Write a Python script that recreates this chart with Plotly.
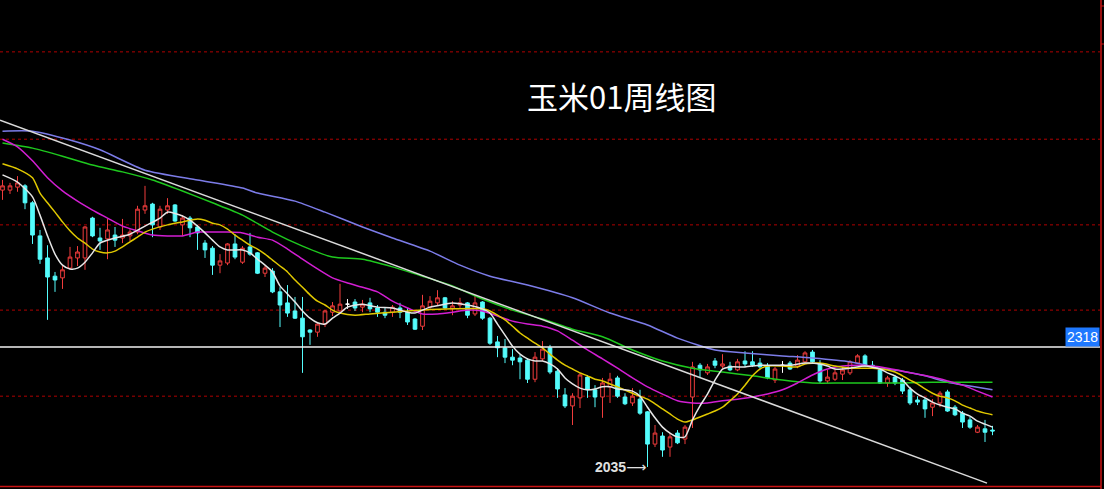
import plotly.graph_objects as go

# ---------------- data (weekly candles, corn 01 contract) ----------------
WEEK = list(range(133))
OPEN = [2688, 2688, 2695, 2698, 2658, 2580, 2528, 2485, 2481, 2504,
        2528, 2528, 2622, 2575, 2573, 2582, 2575, 2580, 2589, 2641,
        2655, 2601, 2641, 2653, 2606, 2622, 2601, 2563, 2551, 2511,
        2516, 2561, 2518, 2554, 2540, 2492, 2497, 2448, 2422, 2403,
        2386, 2358, 2353, 2372, 2400, 2403, 2419, 2424, 2412, 2422,
        2410, 2400, 2400, 2410, 2400, 2384, 2367, 2412, 2422, 2434,
        2408, 2417, 2422, 2396, 2424, 2386, 2330, 2316, 2294, 2292,
        2287, 2242, 2290, 2316, 2261, 2205, 2179, 2198, 2247, 2217,
        2200, 2224, 2245, 2200, 2186, 2195, 2165, 2089, 2108, 2082,
        2115, 2101, 2200, 2275, 2257, 2285, 2273, 2273, 2264, 2285,
        2283, 2280, 2273, 2240, 2275, 2280, 2273, 2283, 2306, 2278,
        2238, 2242, 2254, 2257, 2280, 2297, 2275, 2264, 2233, 2247,
        2240, 2217, 2193, 2193, 2176, 2186, 2212, 2176, 2162, 2146,
        2117, 2125, 2122]
HIGH = [2712, 2705, 2721, 2702, 2662, 2594, 2558, 2495, 2509, 2554,
        2556, 2603, 2625, 2599, 2620, 2601, 2620, 2596, 2651, 2698,
        2658, 2651, 2669, 2655, 2629, 2627, 2606, 2570, 2556, 2537,
        2563, 2584, 2556, 2587, 2542, 2509, 2504, 2459, 2464, 2436,
        2436, 2360, 2377, 2405, 2424, 2467, 2431, 2431, 2429, 2434,
        2417, 2412, 2417, 2422, 2410, 2386, 2441, 2438, 2452, 2436,
        2426, 2434, 2424, 2441, 2426, 2389, 2344, 2337, 2313, 2299,
        2292, 2306, 2332, 2323, 2268, 2221, 2209, 2257, 2252, 2228,
        2245, 2257, 2250, 2209, 2221, 2217, 2167, 2134, 2117, 2115,
        2122, 2134, 2283, 2280, 2278, 2292, 2301, 2283, 2290, 2308,
        2308, 2292, 2280, 2271, 2285, 2285, 2299, 2308, 2311, 2287,
        2264, 2266, 2271, 2287, 2301, 2301, 2285, 2268, 2250, 2252,
        2245, 2224, 2202, 2198, 2195, 2214, 2217, 2181, 2167, 2153,
        2134, 2146, 2132]
LOW = [2665, 2679, 2684, 2643, 2561, 2514, 2382, 2448, 2455, 2500,
       2509, 2500, 2577, 2547, 2525, 2554, 2563, 2568, 2584, 2632,
       2577, 2594, 2632, 2613, 2580, 2577, 2547, 2528, 2488, 2492,
       2511, 2525, 2514, 2533, 2490, 2483, 2445, 2365, 2389, 2384,
       2257, 2323, 2342, 2365, 2391, 2400, 2408, 2403, 2400, 2400,
       2389, 2386, 2389, 2386, 2370, 2358, 2358, 2408, 2415, 2408,
       2393, 2410, 2386, 2391, 2382, 2323, 2294, 2280, 2275, 2242,
       2233, 2235, 2285, 2254, 2198, 2174, 2134, 2174, 2198, 2176,
       2151, 2186, 2198, 2181, 2179, 2158, 2035, 2082, 2059, 2059,
       2089, 2089, 2127, 2247, 2252, 2268, 2268, 2261, 2261, 2271,
       2271, 2266, 2242, 2233, 2257, 2264, 2268, 2280, 2278, 2233,
       2233, 2238, 2240, 2252, 2278, 2271, 2266, 2231, 2224, 2228,
       2207, 2181, 2181, 2151, 2155, 2176, 2165, 2155, 2127, 2125,
       2115, 2094, 2110]
CLOSE = [2698, 2698, 2705, 2658, 2582, 2525, 2483, 2476, 2500, 2530,
         2542, 2601, 2580, 2568, 2594, 2570, 2582, 2589, 2643, 2651,
         2606, 2643, 2651, 2615, 2622, 2599, 2587, 2547, 2511, 2521,
         2561, 2530, 2551, 2537, 2492, 2504, 2448, 2417, 2398, 2386,
         2342, 2353, 2372, 2403, 2415, 2419, 2419, 2410, 2419, 2408,
         2400, 2393, 2412, 2400, 2377, 2360, 2415, 2426, 2434, 2410,
         2415, 2422, 2393, 2422, 2386, 2327, 2316, 2294, 2287, 2283,
         2242, 2294, 2313, 2259, 2219, 2179, 2202, 2252, 2217, 2200,
         2233, 2242, 2202, 2184, 2202, 2162, 2089, 2115, 2075, 2106,
         2092, 2129, 2271, 2264, 2271, 2275, 2278, 2264, 2283, 2278,
         2275, 2271, 2245, 2266, 2275, 2266, 2287, 2304, 2283, 2238,
         2247, 2257, 2264, 2283, 2297, 2273, 2271, 2233, 2245, 2233,
         2214, 2186, 2188, 2172, 2186, 2209, 2167, 2158, 2141, 2129,
         2129, 2117, 2120]

# moving averages (week index, price)
MA5_X = [0, 2, 4, 5, 6, 7, 8, 9, 10, 11, 12, 13, 15, 17, 19, 21, 22, 24, 25, 26,
         27, 28, 29, 30, 32, 33, 34, 35, 36, 37, 38, 39, 40, 41, 42, 43, 44, 45, 46,
         48, 50, 52, 54, 55, 56, 57, 59, 60, 62, 64, 65, 66, 67, 68, 69, 70,
         71, 72, 73, 74, 75, 76, 77, 78, 79, 80, 81, 82, 83, 84, 85, 86, 87, 88, 89,
         90, 91, 92, 93, 94, 95, 96, 97, 99, 101, 103, 105, 107, 109, 110, 111, 113,
         115, 117, 118, 119, 120, 121, 122, 123, 124, 125, 126, 127, 128, 129, 130,
         131, 132]
MA5_Y = [2724, 2707, 2672, 2629, 2580, 2537, 2511, 2502, 2504, 2518, 2540, 2563,
         2575, 2584, 2603, 2622, 2636, 2627, 2617, 2603, 2587, 2570, 2554, 2547,
         2547, 2540, 2525, 2511, 2495, 2462, 2443, 2424, 2403, 2386, 2375, 2372,
         2386, 2398, 2412, 2419, 2412, 2410, 2400, 2398, 2405, 2412, 2419, 2422,
         2417, 2408, 2398, 2372, 2346, 2320, 2301, 2290, 2285, 2285, 2278, 2266,
         2245, 2231, 2221, 2217, 2219, 2224, 2224, 2219, 2217, 2214, 2202, 2176,
         2151, 2129, 2115, 2106, 2106, 2146, 2179, 2207, 2240, 2266, 2271, 2271,
         2275, 2275, 2275, 2280, 2278, 2273, 2266, 2268, 2273, 2266, 2257, 2250,
         2240, 2221, 2207, 2198, 2188, 2181, 2176, 2172, 2162, 2155, 2143, 2136,
         2129]
MA10_X = [0, 2, 4, 5, 6, 7, 8, 9, 10, 11, 12, 13, 14, 15, 16, 17, 18, 19, 20,
          22, 24, 26, 27, 28, 29, 30, 31, 32, 33, 34, 35, 36, 37, 38, 39, 40, 41,
          42, 43, 44, 45, 47, 49, 52, 56, 60, 64, 65, 66, 67, 68, 69, 70, 71, 72,
          73, 74, 75, 76, 77, 78, 79, 80, 82, 84, 85, 86, 87, 88, 89, 90, 91, 92,
          93, 94, 95, 96, 97, 98, 99, 100, 101, 102, 104, 106, 107, 109, 111, 113,
          116, 118, 119, 120, 121, 122, 123, 124, 125, 126, 127, 128, 129, 130,
          131, 132]
MA10_Y = [2750, 2738, 2717, 2681, 2658, 2636, 2613, 2592, 2575, 2563, 2549, 2542,
          2540, 2544, 2554, 2566, 2577, 2589, 2596, 2606, 2613, 2620, 2617, 2610,
          2606, 2596, 2582, 2570, 2558, 2549, 2537, 2523, 2509, 2495, 2476, 2459,
          2441, 2426, 2417, 2405, 2398, 2393, 2396, 2400, 2405, 2408, 2408, 2403,
          2393, 2382, 2367, 2351, 2339, 2327, 2316, 2301, 2287, 2275, 2266, 2257,
          2250, 2242, 2238, 2224, 2209, 2202, 2195, 2184, 2172, 2160, 2148, 2141,
          2146, 2153, 2160, 2167, 2176, 2191, 2207, 2228, 2250, 2266, 2273, 2273,
          2271, 2278, 2280, 2273, 2268, 2268, 2264, 2259, 2250, 2240, 2231, 2219,
          2209, 2202, 2198, 2191, 2181, 2174, 2167, 2162, 2158]
MA20_X = list(range(0, 133, 2))
MA20_Y = [2808, 2790, 2757, 2717, 2686, 2662, 2641, 2622, 2603, 2592,
          2582, 2580, 2580, 2589, 2589, 2589, 2587, 2577, 2570, 2549,
          2525, 2502, 2481, 2469, 2459, 2448, 2426, 2410, 2396, 2396,
          2400, 2405, 2403, 2391, 2379, 2372, 2367, 2356, 2334, 2311,
          2290, 2268, 2245, 2224, 2207, 2191, 2186, 2186, 2191, 2195,
          2200, 2207, 2217, 2233, 2252, 2266, 2273, 2275, 2273, 2268,
          2261, 2254, 2247, 2238, 2228, 2214, 2200]
MA40_X = list(range(0, 133, 4))
MA40_Y = [2799, 2787, 2768, 2747, 2731, 2712, 2686, 2658, 2629, 2589,
          2556, 2530, 2525, 2507, 2485, 2462, 2431, 2405, 2384, 2360,
          2342, 2311, 2285, 2268, 2259, 2250, 2240, 2233, 2233, 2233,
          2233, 2235, 2235, 2235]
MA60_X = [0, 4, 9, 13, 19, 26, 32, 34, 39, 43, 48, 52, 57, 61, 65, 70, 76, 81,
          86, 90, 95, 99, 104, 108, 113, 117, 120, 123, 126, 129, 132]
MA60_Y = [2827, 2827, 2806, 2783, 2735, 2712, 2693, 2681, 2662, 2636, 2601,
          2575, 2544, 2511, 2485, 2464, 2434, 2398, 2370, 2339, 2311, 2304,
          2297, 2292, 2283, 2268, 2261, 2250, 2235, 2226, 2217]

TREND_X = [-0.33, 131.27]
TREND_Y = [2853, 1997]

MARK_LEVEL = 2318
LOW_WEEK = 86
LOW_VALUE = 2035
GRID_LEVELS = [2202, 2405, 2606, 2808, 3014]
TITLE = "玉米01周线图"

X_RANGE = [-0.333, 146.867]
Y_RANGE = [1983.1, 3136.3]

# ---------------- styles ----------------
UP = "#F03C3C"
DOWN = "#54FCFC"
W, H = 1104, 489
BORDER = "#C81414"
GRID = "#B00000"

fig = go.Figure()

normal = [i for i in WEEK if OPEN[i] != CLOSE[i]]
doji = [i for i in WEEK if OPEN[i] == CLOSE[i]]


def pick(arr, idx):
    return [arr[i] for i in idx]


fig.add_trace(go.Candlestick(
    x=normal, open=pick(OPEN, normal), high=pick(HIGH, normal),
    low=pick(LOW, normal), close=pick(CLOSE, normal),
    increasing=dict(line=dict(color=UP, width=1), fillcolor="#000000"),
    decreasing=dict(line=dict(color=DOWN, width=1), fillcolor=DOWN),
    whiskerwidth=0, showlegend=False, hoverinfo="skip"))
fig.add_trace(go.Candlestick(
    x=doji, open=pick(OPEN, doji), high=pick(HIGH, doji),
    low=pick(LOW, doji), close=pick(CLOSE, doji),
    increasing=dict(line=dict(color="#FFFFFF", width=1), fillcolor="#FFFFFF"),
    decreasing=dict(line=dict(color="#FFFFFF", width=1), fillcolor="#FFFFFF"),
    whiskerwidth=0, showlegend=False, hoverinfo="skip"))

for xs, ys, col in [(MA60_X, MA60_Y, "#7C7CE8"),
                    (MA40_X, MA40_Y, "#1EC81E"),
                    (MA20_X, MA20_Y, "#D21ED2"),
                    (MA10_X, MA10_Y, "#E0C800"),
                    (MA5_X, MA5_Y, "#E6E6E6")]:
    fig.add_trace(go.Scatter(x=xs, y=ys, mode="lines",
                             line=dict(color=col, width=1.5, shape="spline", smoothing=0.6),
                             showlegend=False, hoverinfo="skip"))

fig.add_trace(go.Scatter(x=TREND_X, y=TREND_Y, mode="lines",
                         line=dict(color="#DADADA", width=1.5),
                         showlegend=False, hoverinfo="skip"))

shapes = [dict(type="line", xref="paper", yref="y", x0=0, x1=1100 / W,
               y0=g, y1=g, layer="below",
               line=dict(color=GRID, width=1, dash="dot"))
          for g in GRID_LEVELS]
shapes += [
    dict(type="line", xref="paper", yref="y", x0=0, x1=1100 / W,
         y0=MARK_LEVEL, y1=MARK_LEVEL, line=dict(color="#F2F2F2", width=1.5)),
    dict(type="line", xref="paper", yref="paper", x0=1101 / W, x1=1101 / W,
         y0=0, y1=1, line=dict(color=BORDER, width=1.5)),
    dict(type="line", xref="paper", yref="paper", x0=0, x1=1101 / W,
         y0=1 - 486.5 / H, y1=1 - 486.5 / H, line=dict(color=BORDER, width=1.5)),
    dict(type="line", xref="paper", yref="paper", x0=1101 / W, x1=1,
         y0=1 - 6 / H, y1=1 - 6 / H, line=dict(color=BORDER, width=1)),
    dict(type="line", xref="paper", yref="paper", x0=1101 / W, x1=1,
         y0=1 - 44 / H, y1=1 - 44 / H, line=dict(color=BORDER, width=1)),
]

fig.update_layout(
    width=W, height=H,
    margin=dict(l=0, r=0, t=0, b=0),
    paper_bgcolor="#000000", plot_bgcolor="#000000",
    showlegend=False,
    xaxis=dict(range=X_RANGE, showgrid=False, zeroline=False, showticklabels=False,
               ticks="", showline=False, rangeslider=dict(visible=False), fixedrange=True),
    yaxis=dict(range=Y_RANGE, showgrid=False, showticklabels=False, ticks="",
               zeroline=False, showline=False, fixedrange=True),
    shapes=shapes,
    annotations=[
        dict(text=TITLE, xref="paper", yref="paper", x=621 / W, y=1 - 96 / H,
             xanchor="center", yanchor="middle", showarrow=False,
             font=dict(family="Noto Sans CJK SC", size=31, color="#FFFFFF")),
        dict(text=str(MARK_LEVEL), xref="paper", yref="y", x=1100 / W, y=MARK_LEVEL,
             xanchor="right", yanchor="bottom", showarrow=False,
             bgcolor="#1E78FF", borderpad=1,
             font=dict(family="Liberation Sans", size=14, color="#FFFFFF")),
        dict(text="<b>" + str(LOW_VALUE) + "</b>⟶", xref="x", yref="y",
             x=LOW_WEEK, y=LOW_VALUE, xanchor="right", yanchor="middle",
             showarrow=False,
             font=dict(family="Liberation Sans, DejaVu Sans", size=14, color="#E0E0E0")),
    ],
)

fig.write_html(
    "out.html",
    config={"displayModeBar": False, "staticPlot": True},
    post_script="document.body.style.margin='0';document.body.style.background='#000';",
)
